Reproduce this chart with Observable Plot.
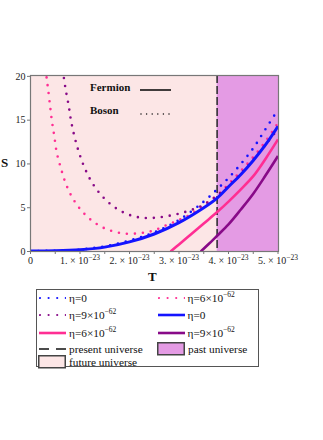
<!DOCTYPE html>
<html>
<head>
<meta charset="utf-8">
<script src="https://cdn.jsdelivr.net/npm/d3@7"></script>
<script src="https://cdn.jsdelivr.net/npm/@observablehq/plot@0.6"></script>
<style>
  html, body { margin: 0; padding: 0; background: #fff; }
  #wrap { position: relative; width: 323px; height: 440px; font-family: "Liberation Serif", "DejaVu Serif", serif; color: #111; }
  #wrap svg.plot { position: absolute; left: 0; top: 0; }
  .ax-label { position: absolute; font-weight: bold; font-size: 13px; line-height: 1; }
  .note { position: absolute; font-weight: bold; font-size: 11px; line-height: 1; display: flex; align-items: center; }
  #legend { position: absolute; left: 36px; top: 289px; width: 223px; height: 78px; border: 1px solid #555; box-sizing: border-box; background: #fff; }
  .item { position: absolute; height: 16px; display: flex; align-items: center; font-size: 11.3px; white-space: nowrap; }
  .item svg { flex: none; }
  .item span { margin-left: 3px; }
  sup { font-size: 7.5px; vertical-align: 5px; line-height: 0; }
</style>
</head>
<body>
<div id="wrap"></div>
<script>
// ---------- data (T in units of 10^-23, S dimensionless) ----------
const UNIT = 1e-23;
const presentT = 3.77;
const tMax = 5.01;
const sMax = 20.1;

const xMajorTicks = [0, 1, 2, 3, 4, 5];
const xMinorTicks = [0, 0.5, 1, 1.5, 2, 2.5, 3, 3.5, 4, 4.5, 5];
const yTicks = [0, 5, 10, 15, 20];

// Boson (dotted)
const tBoson0 = [0, 0.5, 1.0, 1.5, 2.0, 2.5, 3.0, 3.5, 3.77, 4.0, 4.25, 4.5, 4.75, 5.0];
const sBoson0 = [0.05, 0.09, 0.22, 0.6, 1.25, 2.2, 3.6, 5.7, 7.1, 8.4, 10.0, 11.8, 14.0, 16.2];

const tBoson6 = [0.31, 0.33, 0.35, 0.39, 0.43, 0.48, 0.53, 0.61, 0.71, 0.85, 1.04, 1.28, 1.56, 1.89, 2.22, 2.49, 2.76, 3.0, 3.25, 3.5, 3.77, 4.0, 4.25, 4.5, 4.75, 5.0];
const sBoson6 = [20.8, 19.6, 18.8, 16.9, 15.0, 13.2, 11.3, 9.6, 7.8, 6.1, 4.6, 3.35, 2.5, 2.05, 2.1, 2.4, 3.05, 3.6, 4.3, 5.3, 6.4, 7.7, 9.2, 10.8, 12.6, 14.7];

const tBoson9 = [0.64, 0.66, 0.71, 0.77, 0.82, 0.89, 0.98, 1.09, 1.24, 1.42, 1.64, 1.90, 2.19, 2.52, 2.86, 3.17, 3.45, 3.70, 4.0, 4.25, 4.5, 4.75, 5.0];
const sBoson9 = [20.7, 20.3, 18.5, 16.7, 14.9, 13.1, 11.3, 9.6, 7.9, 6.5, 5.3, 4.4, 3.9, 3.85, 4.15, 4.6, 5.2, 6.1, 7.5, 8.9, 10.5, 12.2, 14.0];

// Fermion (solid)
const tFermion0 = [0, 0.5, 1.0, 1.5, 2.0, 2.5, 3.0, 3.5, 3.77, 4.0, 4.25, 4.5, 4.75, 5.0];
const sFermion0 = [0.05, 0.08, 0.2, 0.5, 1.1, 2.0, 3.3, 5.0, 6.1, 7.4, 8.8, 10.4, 12.2, 14.3];

const tFermion6 = [2.83, 3.0, 3.25, 3.5, 3.77, 4.0, 4.25, 4.5, 4.75, 5.0];
const sFermion6 = [0, 0.8, 2.0, 3.2, 4.5, 5.7, 7.1, 8.6, 10.6, 12.8];

const tFermion9 = [3.44, 3.6, 3.77, 4.0, 4.25, 4.5, 4.75, 5.0];
const sFermion9 = [0, 0.85, 1.8, 3.1, 4.8, 6.6, 8.7, 10.9];

const legendLabels = ["η=0", "η=6×10<sup>−62</sup>", "η=9×10<sup>−62</sup>", "present universe", "past universe", "future universe"];

// ---------- styles ----------
const BLUE = "#1414ff", PINK = "#ff2e93", PURPLE = "#880a88";
const FUTURE = "#fce6e6", PAST = "#e49be4";

function pts(ts, ss) { return ts.map((t, i) => ({t: t * UNIT, s: ss[i]})); }

const dotted = {strokeWidth: 2.6, strokeDasharray: "0 8", strokeLinecap: "round"};
const solid = {strokeWidth: 2.6, strokeLinecap: "butt"};

function curve(data, color, style) {
  return Plot.line(data, {x: "t", y: "s", stroke: color, curve: "catmull-rom", clip: true, ...style});
}

function fmtT(v) {
  const n = Math.round(v / UNIT);
  return n === 0 ? "0" : `${n}. × 10^−23`;
}

const chart = Plot.plot({
  width: 323,
  height: 285,
  marginTop: 75,
  marginBottom: 34,
  marginLeft: 30,
  marginRight: 45,
  style: {background: "transparent", fontFamily: "'Liberation Serif', serif", fontSize: "10px", color: "#222"},
  x: {domain: [0, tMax * UNIT]},
  y: {domain: [0, sMax]},
  marks: [
    Plot.rect([{a: 0, b: presentT}], {x1: d => d.a * UNIT, x2: d => d.b * UNIT, fill: FUTURE}),
    Plot.rect([{a: presentT, b: tMax}], {x1: d => d.a * UNIT, x2: d => d.b * UNIT, fill: PAST}),
    Plot.ruleX([presentT * UNIT], {stroke: "#333", strokeWidth: 1.6, strokeDasharray: "8 3"}),
    curve(pts(tBoson0, sBoson0), BLUE, dotted),
    curve(pts(tBoson6, sBoson6), PINK, dotted),
    curve(pts(tBoson9, sBoson9), PURPLE, dotted),
    curve(pts(tFermion6, sFermion6), PINK, solid),
    curve(pts(tFermion9, sFermion9), PURPLE, solid),
    curve(pts(tFermion0, sFermion0), BLUE, {...solid, strokeWidth: 3}),
    Plot.frame({stroke: "#777", strokeWidth: 1.2}),
    Plot.axisY({ticks: yTicks, tickSize: 3, tickPadding: 2, label: null, stroke: "#777", fontSize: 10}),
    Plot.axisX({ticks: xMinorTicks.map(t => t * UNIT), tickSize: 3, tickFormat: () => "", label: null, stroke: "#777"}),
    Plot.axisX({ticks: xMajorTicks.map(t => t * UNIT), tickSize: 0, tickPadding: 5, tickFormat: fmtT, label: null, fontSize: 10})
  ]
});
chart.classList.add("plot");

// superscripts in x tick labels
d3.select(chart).selectAll("text").each(function () {
  const el = this;
  const txt = el.textContent;
  if (txt.includes("^")) {
    const [base, exp] = txt.split("^");
    el.textContent = "";
    const ns = "http://www.w3.org/2000/svg";
    const a = document.createElementNS(ns, "tspan");
    a.textContent = base;
    const b = document.createElementNS(ns, "tspan");
    b.textContent = exp;
    b.setAttribute("font-size", "7.5");
    b.setAttribute("dy", "-4");
    el.appendChild(a);
    el.appendChild(b);
  }
});

const wrap = document.getElementById("wrap");
wrap.appendChild(chart);

// axis labels
wrap.insertAdjacentHTML("beforeend",
  `<div class="ax-label" style="left:1px;top:156px;">S</div>
   <div class="ax-label" style="left:148px;top:270px;">T</div>`);

// inset annotation
function swatch(kind, color) {
  if (kind === "dotted") return `<svg width="27" height="16"><line x1="1" x2="27" y1="8" y2="8" stroke="${color}" stroke-width="2.2" stroke-linecap="round" stroke-dasharray="0 8.6"/></svg>`;
  if (kind === "solid") return `<svg width="27" height="16"><line x1="0" x2="27" y1="8" y2="8" stroke="${color}" stroke-width="2.6"/></svg>`;
  if (kind === "dashed") return `<svg width="27" height="16"><line x1="0" x2="27" y1="8" y2="8" stroke="#111" stroke-width="1.4" stroke-dasharray="10 7"/></svg>`;
  return `<svg width="28" height="16"><rect x="0.75" y="1.75" width="26.5" height="12" fill="${color}" stroke="#444" stroke-width="1.5"/></svg>`;
}
wrap.insertAdjacentHTML("beforeend",
  `<div class="note" style="left:90px;top:82px;">Fermion<svg style="position:absolute;left:50px;top:0" width="32" height="14"><line x1="0" x2="31" y1="8" y2="8" stroke="#111" stroke-width="1.6"/></svg></div>
   <div class="note" style="left:90px;top:105px;">Boson<svg style="position:absolute;left:50px;top:0" width="32" height="14"><line x1="1" x2="31" y1="9" y2="9" stroke="#111" stroke-width="1.5" stroke-linecap="round" stroke-dasharray="0 5.6"/></svg></div>`);

// legend
const L = 2, R = 120.5, rows = [7.7, 25, 42.7, 59, 72];
const items = [
  [L, rows[0], "dotted", BLUE, legendLabels[0]],
  [R, rows[0], "dotted", PINK, legendLabels[1]],
  [L, rows[1], "dotted", PURPLE, legendLabels[2]],
  [R, rows[1], "solid", BLUE, legendLabels[0]],
  [L, rows[2], "solid", PINK, legendLabels[1]],
  [R, rows[2], "solid", PURPLE, legendLabels[2]],
  [L, rows[3], "dashed", "#111", legendLabels[3]],
  [R - 0.5, rows[3], "rect", PAST, legendLabels[4]],
  [L - 1, rows[4], "rect", FUTURE, legendLabels[5]]
];
let html = `<div id="legend">`;
for (const [x, y, kind, color, label] of items) {
  html += `<div class="item" style="left:${x}px;top:${y - 8}px;">${swatch(kind, color)}<span>${label}</span></div>`;
}
html += `</div>`;
wrap.insertAdjacentHTML("beforeend", html);
</script>
</body>
</html>
